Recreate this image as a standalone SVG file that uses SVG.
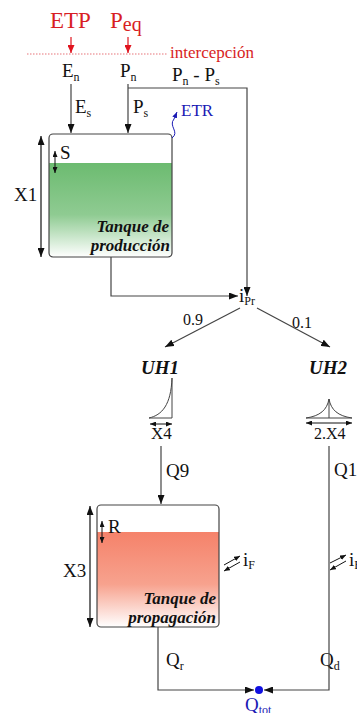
<svg xmlns="http://www.w3.org/2000/svg" width="357" height="713" viewBox="0 0 357 713" font-family="'Liberation Serif','Times New Roman',serif">
<style>
text{font-family:"Liberation Serif","Times New Roman",serif;fill:#111}
.m{font-size:19px}
.sub{font-size:12px}
.red{fill:#d81e24}
.blue{fill:#1a1ab4}
.bi{font-weight:bold;font-style:italic}
.ln{fill:none;stroke:#444;stroke-width:1.2}
</style>
<defs>
<marker id="ah" markerUnits="userSpaceOnUse" markerWidth="9" markerHeight="7" refX="9" refY="3.5" orient="auto-start-reverse"><path d="M0,0 L9,3.5 L0,7 z" fill="#111"/></marker>
<marker id="ahs" markerUnits="userSpaceOnUse" markerWidth="6" markerHeight="5" refX="6" refY="2.5" orient="auto-start-reverse"><path d="M0,0 L6,2.5 L0,5 z" fill="#111"/></marker>
<marker id="ahr" markerUnits="userSpaceOnUse" markerWidth="8" markerHeight="7" refX="8" refY="3.5" orient="auto"><path d="M0,0 L8,3.5 L0,7 z" fill="#e0141e"/></marker>
<marker id="ahb" markerUnits="userSpaceOnUse" markerWidth="6" markerHeight="5" refX="6" refY="2.5" orient="auto"><path d="M0,0 L6,2.5 L0,5 z" fill="#1a1ab4"/></marker>
<linearGradient id="gG" x1="0" y1="0" x2="0" y2="1"><stop offset="0" stop-color="#6cbb70"/><stop offset="0.55" stop-color="#8fcb92"/><stop offset="1" stop-color="#ffffff"/></linearGradient>
<linearGradient id="gR" x1="0" y1="0" x2="0" y2="1"><stop offset="0" stop-color="#f5826a"/><stop offset="0.55" stop-color="#f7a28e"/><stop offset="1" stop-color="#ffffff"/></linearGradient>
</defs>

<g id="inputs">
<text x="50" y="28" font-size="23" class="red">ETP</text>
<text x="110" y="28" font-size="23" class="red">P<tspan font-size="20" dy="3">eq</tspan></text>
<line x1="27" y1="54" x2="167" y2="54" stroke="#e8757a" stroke-width="1.2" stroke-dasharray="1.5 1.5"/>
<text x="170" y="58" font-size="17" class="red">intercepción</text>
<text x="62" y="77" class="m">E<tspan class="sub" dy="4">n</tspan></text>
<text x="120" y="77" class="m">P<tspan class="sub" dy="4">n</tspan></text>
<text x="172" y="81" class="m">P<tspan class="sub" dy="4">n</tspan><tspan dy="-4"> - P</tspan><tspan class="sub" dy="4">s</tspan></text>
<text x="75" y="113" class="m">E<tspan class="sub" dy="4">s</tspan></text>
<text x="133" y="113" class="m">P<tspan class="sub" dy="4">s</tspan></text>
<text x="181" y="116" font-size="17" class="blue">ETR</text>
</g>

<g id="tanque-produccion">
<path d="M49,163 H172 V253 Q172,257 168,257 H53 Q49,257 49,253 Z" fill="url(#gG)"/>
<rect x="49" y="134" width="123" height="123" rx="4" fill="none" stroke="#444" stroke-width="1.2"/>
<line x1="55" y1="151" x2="55" y2="173" stroke="#111" stroke-width="1" marker-start="url(#ahs)" marker-end="url(#ahs)"/>
<text x="60" y="159" class="m">S</text>
<line x1="41" y1="136" x2="41" y2="257" stroke="#111" stroke-width="1.2" marker-start="url(#ah)" marker-end="url(#ah)"/>
<text x="14" y="201" class="m">X1</text>
<text x="169" y="232" font-size="17" class="bi" text-anchor="end">Tanque de</text>
<text x="170" y="251" font-size="17" class="bi" text-anchor="end">producción</text>
</g>

<g id="ipr">
<text x="239" y="302" class="m">i<tspan class="sub" dy="3">Pr</tspan></text>
<text x="183" y="325" font-size="16">0.9</text>
<text x="292" y="328" font-size="16">0.1</text>
</g>

<g id="uh1">
<text x="141" y="374" font-size="19" class="bi">UH1</text>
<path d="M149,418 C162,415 171,405 172,378 V418 Z" fill="none" stroke="#444" stroke-width="1"/>
<line x1="150" y1="424" x2="172" y2="424" stroke="#111" stroke-width="1" marker-start="url(#ahs)" marker-end="url(#ahs)"/>
<text x="151" y="439" font-size="17">X4</text>
</g>

<g id="uh2">
<text x="309" y="374" font-size="19" class="bi">UH2</text>
<path d="M306,418 C320,416 327,410 329,399 C331,410 338,416 352,418 Z M329,399 V418" fill="none" stroke="#444" stroke-width="1"/>
<line x1="306" y1="423" x2="352" y2="423" stroke="#111" stroke-width="1" marker-start="url(#ahs)" marker-end="url(#ahs)"/>
<text x="314" y="439" font-size="16">2.X4</text>
</g>

<g id="tanque-propagacion">
<path d="M97,532 H219 V623 Q219,627 215,627 H101 Q97,627 97,623 Z" fill="url(#gR)"/>
<rect x="97" y="505" width="122" height="122" rx="4" fill="none" stroke="#444" stroke-width="1.2"/>
<line x1="102" y1="521" x2="102" y2="543" stroke="#111" stroke-width="1" marker-start="url(#ahs)" marker-end="url(#ahs)"/>
<text x="108" y="533" class="m">R</text>
<line x1="90" y1="506" x2="90" y2="627" stroke="#111" stroke-width="1.2" marker-start="url(#ah)" marker-end="url(#ah)"/>
<text x="63" y="577" class="m">X3</text>
<text x="216" y="604" font-size="17" class="bi" text-anchor="end">Tanque de</text>
<text x="216" y="623" font-size="17" class="bi" text-anchor="end">propagación</text>
<line x1="224" y1="565" x2="240" y2="556" stroke="#111" stroke-width="1" marker-end="url(#ahs)"/>
<line x1="240" y1="562" x2="224" y2="571" stroke="#111" stroke-width="1" marker-end="url(#ahs)"/>
<text x="243" y="566" class="m">i<tspan class="sub" dy="3">F</tspan></text>
</g>

<g id="intercambio-derecha">
<line x1="330" y1="563" x2="346" y2="555" stroke="#111" stroke-width="1" marker-end="url(#ahs)"/>
<line x1="346" y1="561" x2="330" y2="570" stroke="#111" stroke-width="1" marker-end="url(#ahs)"/>
<text x="349" y="566" class="m">i<tspan class="sub" dy="3">F</tspan></text>
</g>

<g id="salida">
<circle cx="259" cy="690" r="4" fill="#1010e0"/>
<text x="245" y="711" class="m blue">Q<tspan class="sub" dy="3">tot</tspan></text>
<text x="166" y="666" class="m">Q<tspan class="sub" dy="4">r</tspan></text>
<text x="320" y="666" class="m">Q<tspan class="sub" dy="4">d</tspan></text>
<text x="166" y="477" class="m">Q9</text>
<text x="334" y="476" class="m">Q1</text>
</g>

<g id="connectors">
<line x1="71" y1="37" x2="71" y2="53" stroke="#e0141e" stroke-width="1.2" marker-end="url(#ahr)"/>
<line x1="128" y1="37" x2="128" y2="53" stroke="#e0141e" stroke-width="1.2" marker-end="url(#ahr)"/>
<path class="ln" d="M71,84 V133" marker-end="url(#ah)"/>
<path class="ln" d="M128,84 V133" marker-end="url(#ah)"/>
<path class="ln" d="M128,88 H247 V296" marker-end="url(#ah)"/>
<path class="ln" d="M111,257 V296 H238" marker-end="url(#ah)"/>
<path class="ln" d="M240,308 L165,347" marker-end="url(#ah)"/>
<path class="ln" d="M257,308 L330,347" marker-end="url(#ah)"/>
<path class="ln" d="M161,446 V504" marker-end="url(#ah)"/>
<path class="ln" d="M329,446 V690 H264" marker-end="url(#ah)"/>
<path class="ln" d="M158,627 V690 H254" marker-end="url(#ah)"/>
<path d="M172,138 C180,132 168,126 174,119 L177,112" fill="none" stroke="#1a1ab4" stroke-width="1" marker-end="url(#ahb)"/>
</g>
</svg>
